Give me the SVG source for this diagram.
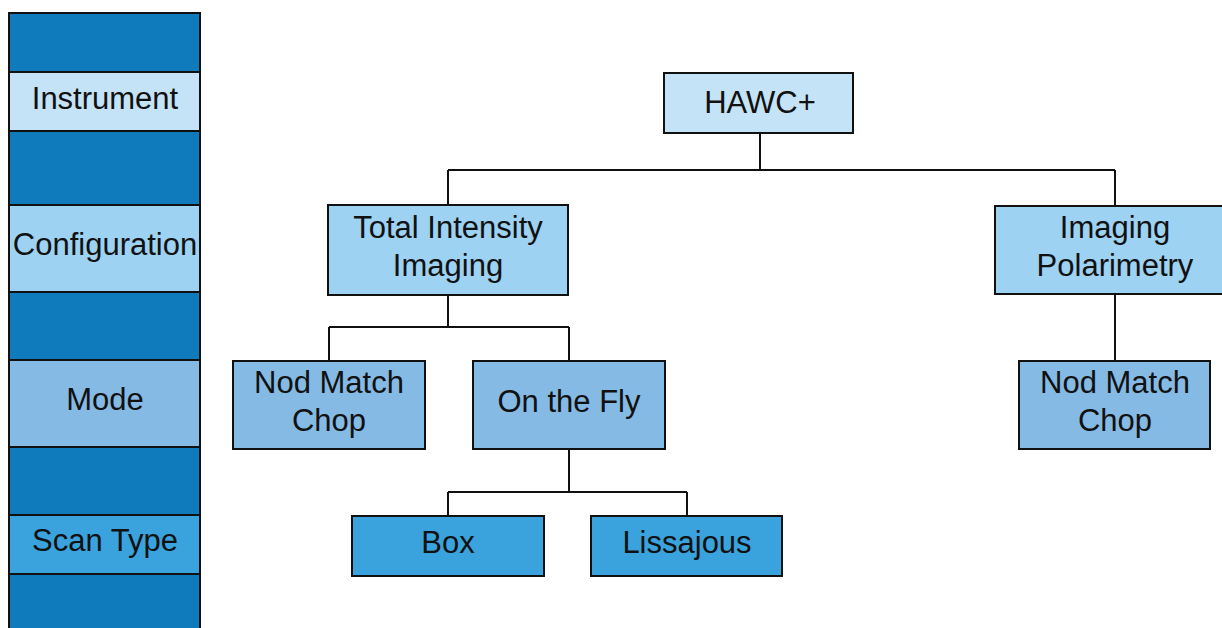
<svg xmlns="http://www.w3.org/2000/svg" width="1222" height="628" viewBox="0 0 1222 628">
<style>
.b{stroke:#111;stroke-width:2}
.t{font-family:"Liberation Sans",Arial,sans-serif;font-size:31px;fill:#111;text-anchor:middle}
.c{fill:none;stroke:#111;stroke-width:2}
.dk{fill:#0F7BBD}.l1{fill:#C5E3F6}.l2{fill:#9DD2F2}.l3{fill:#85BAE4}.l4{fill:#3AA3DE}
</style>
<rect width="1222" height="628" fill="#fff"/>
<g id="legend">
<rect class="b dk" x="9" y="13" width="191" height="59"/>
<rect class="b l1" x="9" y="72" width="191" height="59"/>
<rect class="b dk" x="9" y="131" width="191" height="74"/>
<rect class="b l2" x="9" y="205" width="191" height="87"/>
<rect class="b dk" x="9" y="292" width="191" height="68"/>
<rect class="b l3" x="9" y="360" width="191" height="87"/>
<rect class="b dk" x="9" y="447" width="191" height="68"/>
<rect class="b l4" x="9" y="515" width="191" height="59"/>
<rect class="b dk" x="9" y="574" width="191" height="60"/>
<text class="t" x="105" y="109">Instrument</text>
<text class="t" x="105" y="255">Configuration</text>
<text class="t" x="105" y="410">Mode</text>
<text class="t" x="105" y="551">Scan Type</text>
</g>
<g id="connectors">
<path class="c" d="M760 133V170M448 170H1115M448 170V205M1115 170V206"/>
<path class="c" d="M448 295V327M329 327H569M329 327V361M569 327V361"/>
<path class="c" d="M1115 294V361"/>
<path class="c" d="M569 449V492M448 492H687M448 492V516M687 492V516"/>
</g>
<g id="hawc">
<rect class="b l1" x="664" y="73" width="189" height="60"/>
<text class="t" x="760" y="113">HAWC+</text>
</g>
<g id="tii">
<rect class="b l2" x="328" y="205" width="240" height="90"/>
<text class="t" x="448" y="238">Total Intensity</text>
<text class="t" x="448" y="276">Imaging</text>
</g>
<g id="ip">
<rect class="b l2" x="995" y="206" width="240" height="88"/>
<text class="t" x="1115" y="238">Imaging</text>
<text class="t" x="1115" y="276">Polarimetry</text>
</g>
<g id="nmc1">
<rect class="b l3" x="233" y="361" width="192" height="88"/>
<text class="t" x="329" y="393">Nod Match</text>
<text class="t" x="329" y="431">Chop</text>
</g>
<g id="otf">
<rect class="b l3" x="473" y="361" width="192" height="88"/>
<text class="t" x="569" y="412">On the Fly</text>
</g>
<g id="nmc2">
<rect class="b l3" x="1019" y="361" width="191" height="88"/>
<text class="t" x="1115" y="393">Nod Match</text>
<text class="t" x="1115" y="431">Chop</text>
</g>
<g id="box">
<rect class="b l4" x="352" y="516" width="192" height="60"/>
<text class="t" x="448" y="553">Box</text>
</g>
<g id="liss">
<rect class="b l4" x="591" y="516" width="191" height="60"/>
<text class="t" x="687" y="553">Lissajous</text>
</g>
</svg>
